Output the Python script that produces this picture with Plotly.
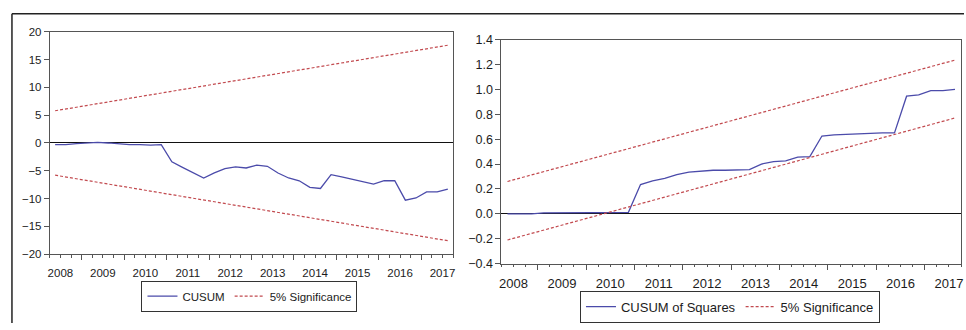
import numpy as np
import plotly.graph_objects as go

# ---------------- data ----------------
# quarterly observations 2008Q2 .. 2017Q3 (38 obs), plotted at observation centres
n_obs = 38
obs_x = list(np.arange(n_obs) + 0.5)

cusum = [-0.3, -0.3, -0.1, 0.0, 0.1, 0.0, -0.2, -0.3, -0.3, -0.4,
         -0.3, -3.4, -4.4, -5.3, -6.3, -5.4, -4.6, -4.3, -4.5, -4.0,
         -4.2, -5.4, -6.3, -6.8, -8.0, -8.2, -5.7, -6.1, -6.5, -6.9,
         -7.4, -6.8, -6.8, -10.3, -9.9, -8.8, -8.8, -8.3]
cusum_upper = [5.8, 17.6]
cusum_lower = [-5.8, -17.6]

cusumsq = [0.0, 0.0, 0.0, 0.008, 0.01, 0.01, 0.01, 0.01, 0.01, 0.01,
           0.012, 0.235, 0.265, 0.285, 0.315, 0.335, 0.345, 0.35, 0.35, 0.35,
           0.355, 0.40, 0.42, 0.425, 0.455, 0.46, 0.625, 0.635, 0.64, 0.64,
           0.645, 0.65, 0.65, 0.945, 0.955, 0.99, 0.99, 1.0]
sq_upper = [0.26, 1.235]
sq_lower = [-0.21, 0.77]

sig_x = [obs_x[0], obs_x[-1]]

years = ["2008", "2009", "2010", "2011", "2012", "2013", "2014", "2015", "2016", "2017"]
year_label_pos = [1 + 4 * k for k in range(len(years))]      # centre of each year
year_bound_pos = [3 + 4 * k for k in range(len(years) - 1)]  # year boundaries
quarter_ticks = list(range(0, n_obs + 1))

# ---------------- style ----------------
BLUE = "#4B4BAA"
RED = "#C24A4F"
AXC = "#555555"
TXT = "#1c1c1c"
FONT = "Liberation Sans, Arial, sans-serif"
W, H = 966, 330

fig = go.Figure()

# left panel
fig.add_trace(go.Scatter(x=obs_x, y=cusum, mode="lines", name="CUSUM",
                         line=dict(color=BLUE, width=1.3), xaxis="x", yaxis="y",
                         legend="legend"))
fig.add_trace(go.Scatter(x=sig_x, y=cusum_upper, mode="lines", name="5% Significance",
                         line=dict(color=RED, width=1.2, dash="3px,2px"),
                         xaxis="x", yaxis="y", legend="legend"))
fig.add_trace(go.Scatter(x=sig_x, y=cusum_lower, mode="lines", showlegend=False,
                         line=dict(color=RED, width=1.2, dash="3px,2px"),
                         xaxis="x", yaxis="y"))
# label helper axis (left)
fig.add_trace(go.Scatter(x=[None], y=[None], xaxis="x3", yaxis="y",
                         showlegend=False, hoverinfo="skip"))

# right panel
fig.add_trace(go.Scatter(x=obs_x, y=cusumsq, mode="lines", name="CUSUM of Squares",
                         line=dict(color=BLUE, width=1.3), xaxis="x2", yaxis="y2",
                         legend="legend2"))
fig.add_trace(go.Scatter(x=sig_x, y=sq_upper, mode="lines", name="5% Significance",
                         line=dict(color=RED, width=1.2, dash="3px,2px"),
                         xaxis="x2", yaxis="y2", legend="legend2"))
fig.add_trace(go.Scatter(x=sig_x, y=sq_lower, mode="lines", showlegend=False,
                         line=dict(color=RED, width=1.2, dash="3px,2px"),
                         xaxis="x2", yaxis="y2"))
fig.add_trace(go.Scatter(x=[None], y=[None], xaxis="x4", yaxis="y2",
                         showlegend=False, hoverinfo="skip"))

L_x0, L_x1, L_y0, L_y1 = 48, 453, 26, 258
R_x0, R_x1, R_y0, R_y1 = 501.5, 963, 34, 268


def dom_x(a, b):
    return [a / W, b / W]


def dom_y(top, bottom):
    return [1 - bottom / H, 1 - top / H]


def main_xaxis(dom, anchor):
    return dict(domain=dom, anchor=anchor, range=[0, n_obs], showgrid=False,
                zeroline=False, showline=True, linecolor=AXC, linewidth=1,
                mirror=True, tickmode="array", tickvals=year_bound_pos,
                ticks="outside", ticklen=5, tickcolor=AXC, tickwidth=1,
                showticklabels=False,
                minor=dict(tickmode="array", tickvals=quarter_ticks, ticks="outside",
                           ticklen=2.5, tickcolor=AXC, tickwidth=1, showgrid=False))


def label_xaxis(over, anchor, size, standoff):
    return dict(overlaying=over, anchor=anchor, range=[0, n_obs], showgrid=False,
                zeroline=False, showline=False, ticks="", tickmode="array",
                tickvals=year_label_pos, ticktext=years, ticklabelstandoff=standoff,
                tickfont=dict(family=FONT, size=size, color=TXT), side="bottom")


fig.update_layout(
    width=W, height=H,
    margin=dict(l=0, r=0, t=0, b=0),
    paper_bgcolor="white", plot_bgcolor="white",
    font=dict(family=FONT, color=TXT),
    xaxis=main_xaxis(dom_x(L_x0, L_x1), "y"),
    xaxis3=label_xaxis("x", "y", 11.5, 10),
    yaxis=dict(domain=dom_y(L_y0, L_y1), anchor="x", range=[-20, 20],
               tickmode="array", tickvals=[-20, -15, -10, -5, 0, 5, 10, 15, 20],
               ticks="outside", ticklen=5, tickcolor=AXC, showgrid=False,
               showline=True, linecolor=AXC, linewidth=1, mirror=True,
               zeroline=True, zerolinecolor="#111111", zerolinewidth=1.3,
               tickfont=dict(family=FONT, size=11.5, color=TXT)),
    xaxis2=main_xaxis(dom_x(R_x0, R_x1), "y2"),
    xaxis4=label_xaxis("x2", "y2", 13, 10),
    yaxis2=dict(domain=dom_y(R_y0, R_y1), anchor="x2", range=[-0.4, 1.4],
                tickmode="array", tickvals=[-0.4, -0.2, 0, 0.2, 0.4, 0.6, 0.8, 1.0, 1.2, 1.4],
                tickformat=".1f",
                ticks="outside", ticklen=5, tickcolor=AXC, showgrid=False,
                showline=True, linecolor=AXC, linewidth=1, mirror=True,
                zeroline=True, zerolinecolor="#111111", zerolinewidth=1.3,
                tickfont=dict(family=FONT, size=12.5, color=TXT)),
    legend=dict(orientation="h", x=248.5 / W, xanchor="center",
                y=1 - 302 / H, yanchor="middle",
                bordercolor="#333333", borderwidth=1, bgcolor="white",
                font=dict(family=FONT, size=11.5, color=TXT),
                itemwidth=30, tracegroupgap=0),
    legend2=dict(orientation="h", x=731 / W, xanchor="center",
                 y=1 - 313 / H, yanchor="middle",
                 bordercolor="#333333", borderwidth=1, bgcolor="white",
                 font=dict(family=FONT, size=13, color=TXT),
                 itemwidth=30, tracegroupgap=0),
    shapes=[
        dict(type="line", xref="paper", yref="paper", x0=10 / W, x1=1, y0=1 - 7 / H, y1=1 - 7 / H,
             line=dict(color="#222222", width=1.5)),
        dict(type="line", xref="paper", yref="paper", x0=10 / W, x1=10 / W, y0=0, y1=1 - 7 / H,
             line=dict(color="#222222", width=1.5)),
    ],
)

fig.write_html("out.html")
